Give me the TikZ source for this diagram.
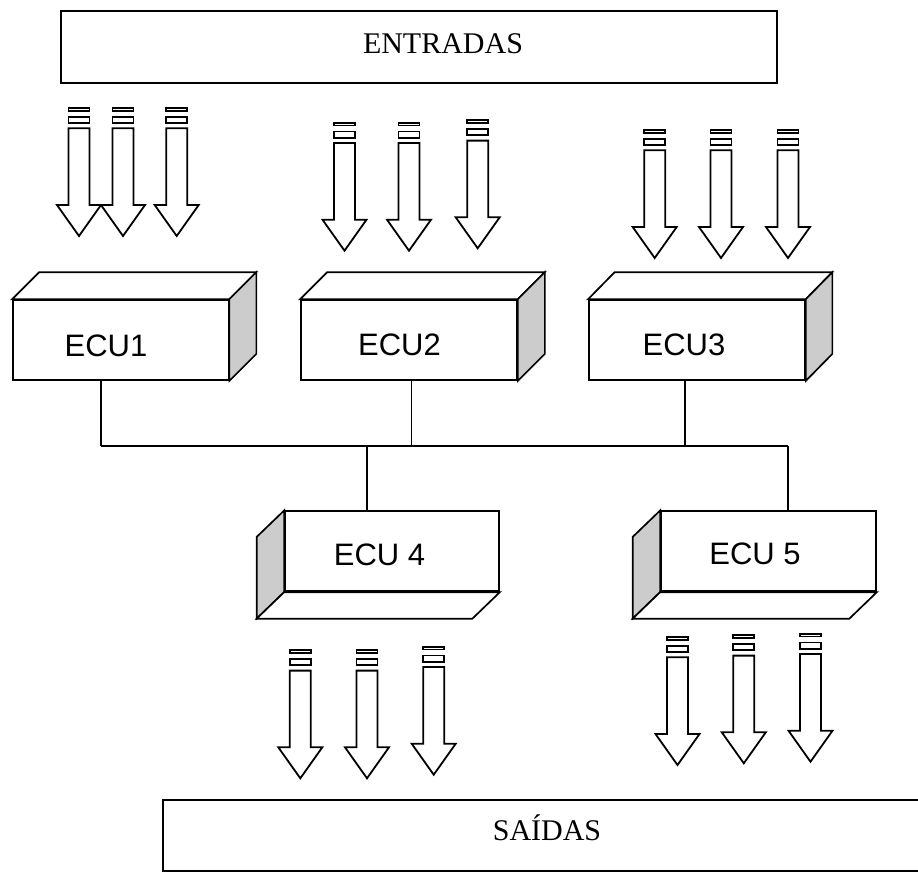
\documentclass[tikz,border=0pt]{standalone}
\usepackage{fontspec}
\setmainfont{Liberation Serif}
\newfontfamily\ecufont{Liberation Sans}
\usetikzlibrary{calc}
\definecolor{sidegray}{RGB}{204,204,204}
\begin{document}
\begin{tikzpicture}[x=1pt,y=-1pt,
  ecu/.style={draw, line width=1.7pt, fill=white, minimum height=80pt, inner sep=0pt},
  face/.style={draw, line width=1.7pt, line join=miter},
  iobox/.style={draw, line width=1.7pt, inner sep=0pt},
  bus/.style={line width=1.3pt},
  sig/.style={draw, line width=1.8pt, fill=white, line join=miter},
  ecutext/.style={font=\ecufont\fontsize{31}{37}\selectfont, anchor=base, inner sep=0pt},
  iotext/.style={font=\fontsize{30}{36}\selectfont, anchor=base, inner sep=0pt},
  pics/sigarrow/.style={code={
    \draw[sig] (-10.5,1) rectangle (10.5,3.7);
    \draw[sig] (-10.5,9.7) rectangle (10.5,16);
    \draw[sig] (-10.5,21.3) -- (-10.5,98) -- (-22,98) -- (0,129) -- (22,98)
      -- (10.5,98) -- (10.5,21.3) -- cycle;
  }}
]
\useasboundingbox (0,0) rectangle (918,873);
\clip (0,0) rectangle (918,873);

% input and output blocks
\node[iobox, minimum width=716pt, minimum height=72pt] (entradas) at (419,47) {};
\node[iotext] (entradaslabel) at (443,53.5) {ENTRADAS};
\node[iobox, minimum width=777pt, minimum height=71pt] (saidas) at (551.5,835.5) {};
\node[iotext] (saidaslabel) at (547,840) {SAÍDAS};

% input signals
\foreach \cx/\t in {79/107, 123/107, 176.7/107,
                    344.5/121.7, 409/121.7, 477.7/119.3,
                    654.7/129, 721/129, 788/129}
  \pic at (\cx,\t) {sigarrow};

% upper control units (extruded up and to the right)
\foreach \n/\cx/\w/\d in {1/120.75/215.5/27, 2/409/216/27, 3/697/216/26.5}{
  \node[ecu, minimum width=\w pt] (ecu\n) at (\cx,340) {};
  \draw[face, fill=white] (ecu\n.north west) -- ++(\d,-27)
    -- ($(ecu\n.north east)+(\d,-27)$) -- (ecu\n.north east) -- cycle;
  \draw[face, fill=sidegray] (ecu\n.north east) -- ++(\d,-27)
    -- ($(ecu\n.south east)+(\d,-27)$) -- (ecu\n.south east) -- cycle;
}
\node[ecutext] (ecu1label) at (106,356) {ECU1};
\node[ecutext] (ecu2label) at (399.5,355) {ECU2};
\node[ecutext] (ecu3label) at (684,355) {ECU3};

% lower control units (extruded down and to the left)
\foreach \n/\cx/\w in {4/392/214, 5/768.5/215}{
  \node[ecu, minimum width=\w pt] (ecu\n) at (\cx,551.3) {};
  \draw[face, fill=sidegray] (ecu\n.north west) -- ++(-27.5,26.5)
    -- ($(ecu\n.south west)+(-27.5,26.5)$) -- (ecu\n.south west) -- cycle;
  \draw[face, fill=white] (ecu\n.south west) -- ++(-27.5,26.5)
    -- ($(ecu\n.south east)+(-27.5,26.5)$) -- (ecu\n.south east) -- cycle;
}
\node[ecutext] (ecu4label) at (379.5,565) {ECU 4};
\node[ecutext] (ecu5label) at (755,564) {ECU 5};

% shared bus
\coordinate (bus1) at (101,446);
\coordinate (bus2) at (411.7,446);
\coordinate (bus3) at (685,446);
\coordinate (bus4) at (367,446);
\coordinate (bus5) at (788,446);
\draw[bus] (bus1) -- (bus5);
\draw[bus] (ecu1.south -| bus1) -- (bus1);
\draw[bus] (ecu2.south -| bus2) -- (bus2);
\draw[bus] (ecu3.south -| bus3) -- (bus3);
\draw[bus] (bus4) -- (ecu4.north -| bus4);
\draw[bus] (bus5) -- (ecu5.north -| bus5);

% output signals
\foreach \cx/\t in {300.3/649.3, 367/649.3, 433.7/645.7,
                    677.5/636, 743.8/634.3, 810.5/632.7}
  \pic at (\cx,\t) {sigarrow};
\end{tikzpicture}
\end{document}
